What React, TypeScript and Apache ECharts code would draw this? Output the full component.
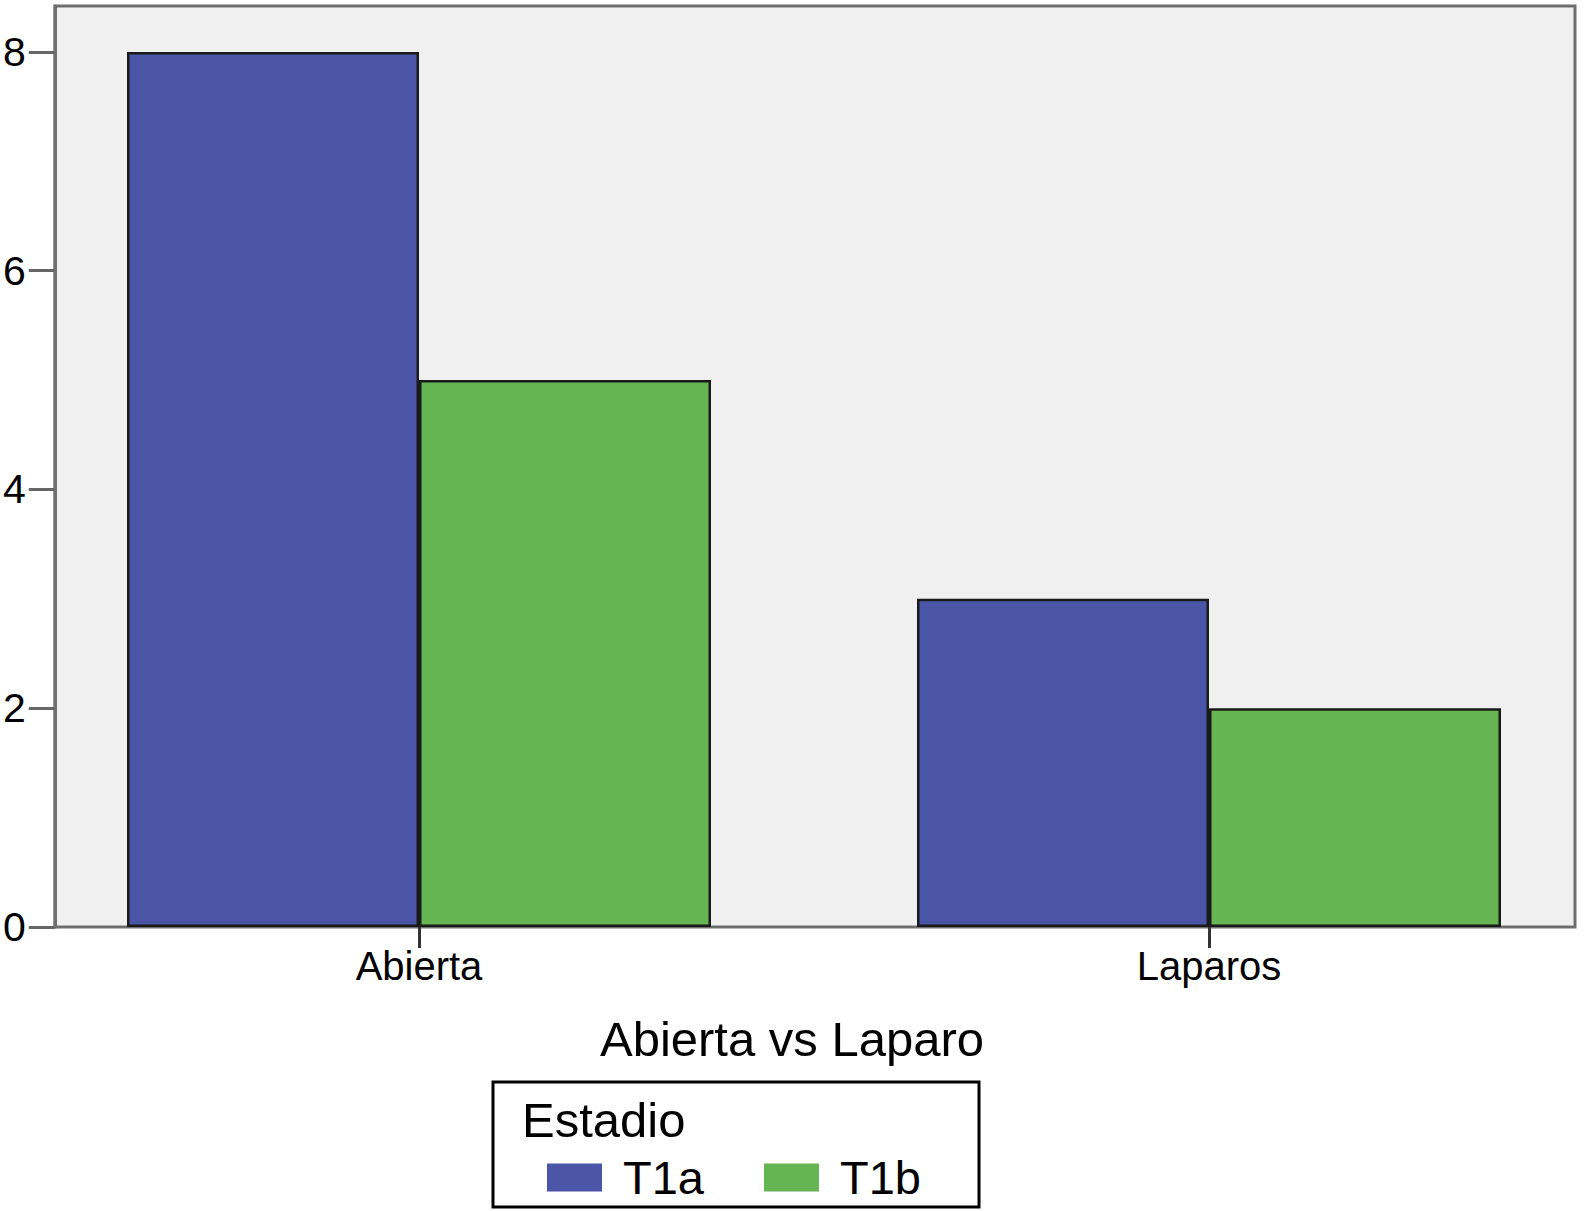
import React, { useEffect, useRef } from "react";
import * as echarts from "echarts";

const categories = ["Abierta", "Laparos"];
const seriesNames = ["T1a", "T1b"];
const t1aValues = [8, 3];
const t1bValues = [5, 2];
const yTickValues = [0, 2, 4, 6, 8];
const axisTitle = "Abierta vs Laparo";
const legendTitle = "Estadio";
const colors = ["#4b56a9", "#65b552"];

const FONT = "'Liberation Sans', Arial, sans-serif";
const Y_MAX = 8.42;
const CANVAS_W = 1620;

export default function App() {
  const ref = useRef<HTMLDivElement>(null);
  useEffect(() => {
    if (!ref.current) return;
    const chart = echarts.init(ref.current, null, { renderer: "svg" });
    chart.setOption({
      animation: false,
      backgroundColor: "#ffffff",
      textStyle: { fontFamily: FONT },
      grid: [
        {
          left: 52,
          top: 6,
          right: CANVAS_W - 1575,
          bottom: 284,
          show: true,
          backgroundColor: "#f0f0f0",
          borderColor: "#6e6e6e",
          borderWidth: 3,
        },
        { left: 24, top: 6, width: 1580, bottom: 284 },
      ],
      xAxis: [
        { gridIndex: 0, type: "category", data: categories, show: false },
        {
          gridIndex: 1,
          type: "category",
          data: categories,
          axisLine: { show: false },
          axisTick: {
            show: true,
            alignWithLabel: true,
            length: 21,
            lineStyle: { color: "#333333", width: 3 },
          },
          axisLabel: {
            fontSize: 40,
            color: "#000000",
            fontFamily: FONT,
            margin: 19,
          },
        },
      ],
      yAxis: [
        {
          gridIndex: 0,
          type: "value",
          min: 0,
          max: Y_MAX,
          splitLine: { show: false },
          axisLine: { show: true, lineStyle: { color: "#6e6e6e", width: 3 } },
          axisTick: {
            show: true,
            length: 26,
            customValues: yTickValues,
            lineStyle: { color: "#666666", width: 3 },
          },
          axisLabel: {
            customValues: yTickValues,
            fontSize: 41,
            color: "#000000",
            fontFamily: FONT,
            margin: 29,
          },
        },
        { gridIndex: 1, type: "value", min: 0, max: Y_MAX, show: false },
      ],
      legend: {
        left: 547,
        top: 1154,
        padding: 0,
        itemWidth: 55,
        itemHeight: 28,
        itemGap: 60,
        icon: "rect",
        data: seriesNames,
        itemStyle: { borderWidth: 0 },
        textStyle: {
          fontSize: 47,
          color: "#000000",
          fontFamily: FONT,
          padding: [0, 0, 8, 16],
        },
      },
      graphic: [
        {
          type: "rect",
          shape: { x: 493, y: 1082, width: 486, height: 125 },
          style: { fill: "none", stroke: "#000000", lineWidth: 3 },
          z: 10,
        },
        {
          type: "text",
          x: 522,
          y: 1120,
          style: {
            text: legendTitle,
            font: `49px ${FONT}`,
            fill: "#000000",
            textAlign: "left",
            textVerticalAlign: "middle",
          },
          z: 10,
        },
        {
          type: "text",
          x: 792,
          y: 1039,
          style: {
            text: axisTitle,
            font: `49px ${FONT}`,
            fill: "#000000",
            textAlign: "center",
            textVerticalAlign: "middle",
          },
          z: 10,
        },
      ],
      series: [
        {
          name: seriesNames[0],
          type: "bar",
          xAxisIndex: 1,
          yAxisIndex: 1,
          data: t1aValues,
          barWidth: 292,
          barGap: "0%",
          itemStyle: { color: colors[0], borderColor: "#1a1a1a", borderWidth: 2.5 },
        },
        {
          name: seriesNames[1],
          type: "bar",
          xAxisIndex: 1,
          yAxisIndex: 1,
          data: t1bValues,
          barWidth: 292,
          barGap: "0%",
          itemStyle: { color: colors[1], borderColor: "#1a1a1a", borderWidth: 2.5 },
        },
      ],
    });
    return () => chart.dispose();
  }, []);
  return (
    <div
      style={{
        position: "absolute",
        left: 0,
        top: 0,
        width: 1584,
        height: 1211,
        overflow: "hidden",
      }}
    >
      <div ref={ref} style={{ width: CANVAS_W, height: 1211 }} />
    </div>
  );
}
